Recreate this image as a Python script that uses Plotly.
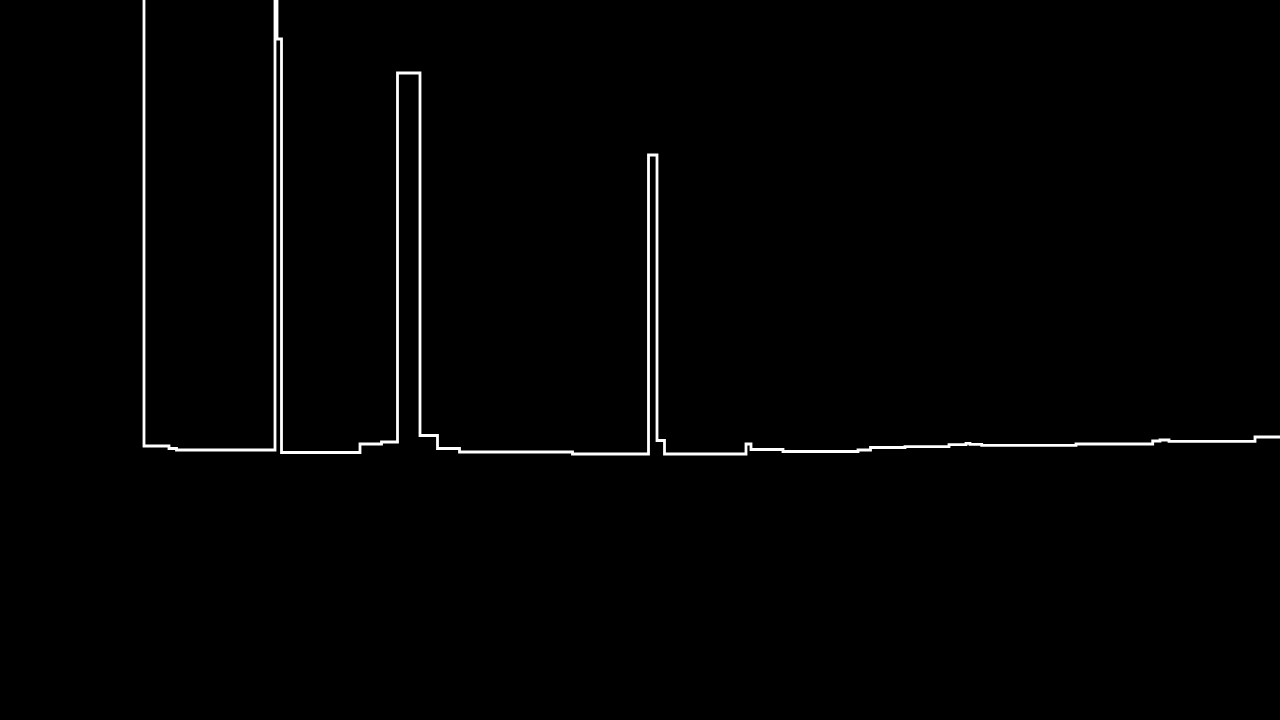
import plotly.graph_objects as go

# Step series (x in arbitrary units, y in arbitrary units)
x_vals = [0.0, 0.0, 2.5, 3.25, 13.1, 13.3, 13.75, 21.6, 23.75, 25.35, 27.6, 29.35,
          31.55, 42.85, 50.45, 51.3, 52.05, 60.2, 60.7, 63.9, 71.4, 72.65, 76.1,
          80.5, 82.2, 82.6, 83.77, 93.2, 100.87, 101.6, 102.5, 111.1, 114.0]
y_vals = [80.0, 27.4, 27.15, 27.0, 80.0, 68.1, 26.75, 27.6, 27.8, 64.7, 28.45, 27.15,
          26.8, 26.6, 56.5, 27.95, 26.6, 27.6, 27.05, 26.85, 27.0, 27.25, 27.33,
          27.53, 27.67, 27.57, 27.47, 27.6, 27.9, 28.0, 27.87, 28.3, 28.3]

fig = go.Figure()
fig.add_trace(go.Scatter(
    x=x_vals, y=y_vals, mode="lines",
    line=dict(shape="hv", color="white", width=2.8),
    hoverinfo="skip",
))

fig.update_layout(
    width=1280, height=720,
    margin=dict(l=0, r=0, t=0, b=0),
    paper_bgcolor="black", plot_bgcolor="black",
    showlegend=False,
    xaxis=dict(range=[-14.4, 113.6], visible=False),
    yaxis=dict(range=[0, 72], visible=False),
)

fig.write_html("out.html")
